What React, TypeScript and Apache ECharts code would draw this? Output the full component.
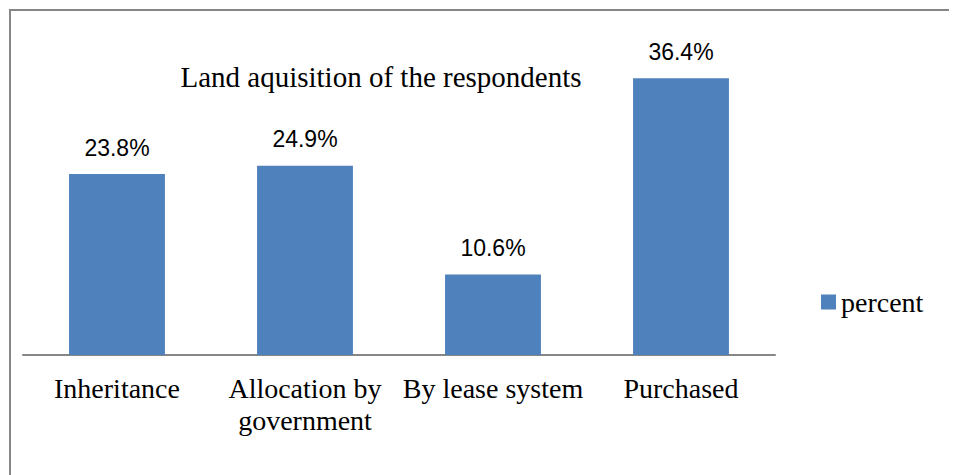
import React, { useEffect, useRef } from "react";
import * as echarts from "echarts";

const categories = ["Inheritance", "Allocation by\ngovernment", "By lease system", "Purchased"];
const percentValues = [23.8, 24.9, 10.6, 36.4];
const seriesName = "percent";
const titleText = "Land aquisition of the respondents";

export default function App() {
  const ref = useRef<HTMLDivElement>(null);
  useEffect(() => {
    document.body.style.margin = "8px";
    const chart = echarts.init(ref.current!, null, { renderer: "svg" });
    chart.setOption({
      animation: false,
      title: {
        text: titleText,
        left: 368,
        top: 49,
        textAlign: "center",
        textStyle: { fontFamily: "Liberation Serif", fontSize: 29, fontWeight: "normal", color: "#000" },
      },
      legend: {
        data: [seriesName],
        orient: "vertical",
        left: 808,
        top: 275,
        itemWidth: 15,
        itemHeight: 15,
        itemGap: 0,
        icon: "rect",
        textStyle: { fontFamily: "Liberation Serif", fontSize: 28, color: "#000" },
      },
      grid: { left: 15, right: 182, top: 43, bottom: 120, containLabel: false },
      xAxis: {
        type: "category",
        data: categories,
        axisLine: { lineStyle: { color: "#868686", width: 2 } },
        axisTick: { show: false },
        axisLabel: {
          interval: 0,
          margin: 17,
          fontFamily: "Liberation Serif",
          fontSize: 28,
          color: "#000",
          lineHeight: 32,
        },
      },
      yAxis: {
        type: "value",
        min: 0,
        max: 40,
        interval: 10,
        show: false,
        splitLine: { show: false },
      },
      series: [
        {
          name: seriesName,
          type: "bar",
          data: percentValues,
          barWidth: "51%",
          itemStyle: { color: "#4F81BD" },
          label: {
            show: true,
            position: "top",
            distance: 15,
            formatter: (p: any) => p.value.toFixed(1) + "%",
            fontFamily: "Liberation Sans",
            fontSize: 23,
            color: "#000",
          },
        },
      ],
      graphic: [
        {
          type: "rect",
          shape: { x: 2, y: 2, width: 1200, height: 800 },
          style: { fill: "none", stroke: "#868686", lineWidth: 2 },
          silent: true,
        },
      ],
    });
    return () => chart.dispose();
  }, []);
  return <div ref={ref} style={{ width: 949, height: 467 }} />;
}
